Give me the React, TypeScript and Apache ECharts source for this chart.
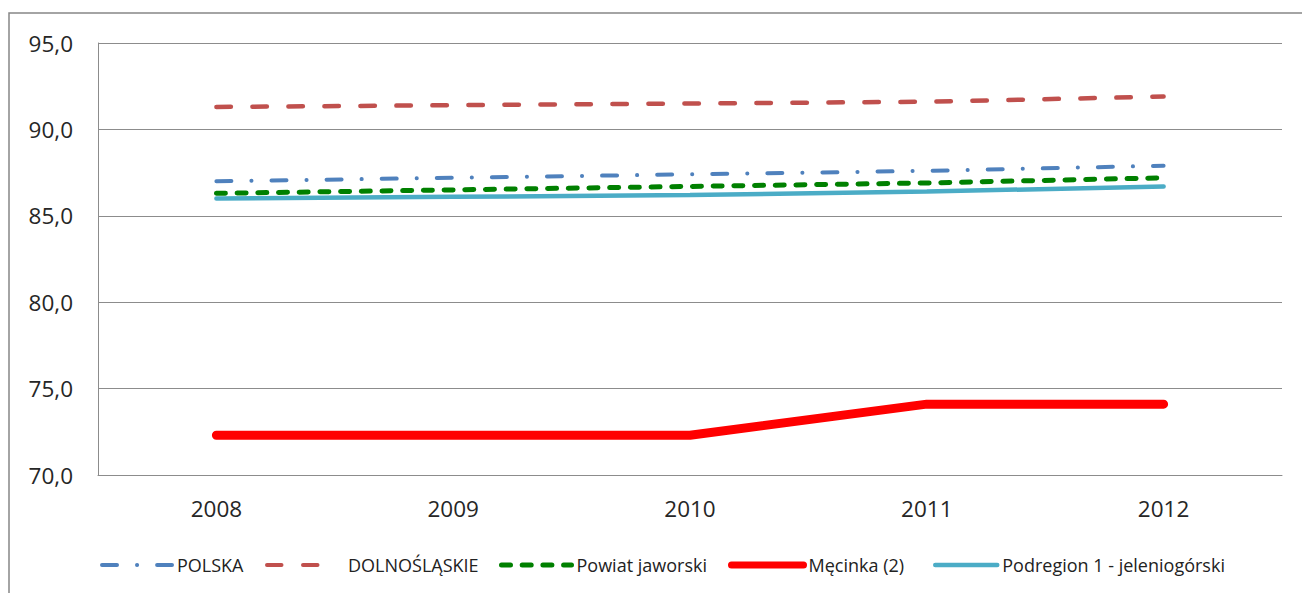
import React, { useEffect, useRef } from "react";
import * as echarts from "echarts";

const years = ["2008", "2009", "2010", "2011", "2012"];
const polska = [87.0, 87.2, 87.4, 87.6, 87.9];
const dolnoslaskie = [91.3, 91.4, 91.5, 91.6, 91.9];
const powiatJaworski = [86.3, 86.5, 86.7, 86.9, 87.2];
const mecinka = [72.3, 72.3, 72.3, 74.1, 74.1];
const podregion = [86.0, 86.1, 86.2, 86.4, 86.7];

const seriesNames = [
  "POLSKA",
  "DOLNOŚLĄSKIE",
  "Powiat jaworski",
  "Męcinka (2)",
  "Podregion 1 - jeleniogórski",
];

const FONT = "'Open Sans', 'Noto Sans', sans-serif";

export default function App() {
  const ref = useRef<HTMLDivElement>(null);

  useEffect(() => {
    if (!ref.current) return;
    const chart = echarts.init(ref.current, null, { renderer: "svg" });

    const legendLefts = [95, 260, 494, 723, 928];
    const legendWidths = [70, 58, 70, 72, 62];
    const legendLineWidths = [4, 4, 5, 7, 4.5];
    const legends = seriesNames.map((n, i) => ({
      data: [n],
      left: legendLefts[i],
      top: 551,
      padding: 5,
      itemWidth: legendWidths[i],
      itemHeight: 14,
      selectedMode: false,
      itemStyle: { opacity: 0 },
      lineStyle: { width: legendLineWidths[i], cap: "round" },
      textStyle: {
        fontFamily: FONT,
        fontSize: 18,
        color: "#222",
        padding: i === 1 ? [0, 0, 0, 18] : [0, 0, 0, 0],
      },
    }));

    chart.setOption({
      animation: false,
      backgroundColor: "#fff",
      graphic: [
        {
          type: "rect",
          shape: { x: 9, y: 13, width: 1310, height: 600 },
          style: { fill: "none", stroke: "#868686", lineWidth: 1.5 },
          silent: true,
        },
      ],
      legend: legends,
      grid: { left: 98, right: 20, top: 43, bottom: 118 },
      xAxis: {
        type: "category",
        data: years,
        boundaryGap: true,
        axisLine: { show: true, lineStyle: { color: "#8c8c8c", width: 1 } },
        axisTick: { show: false },
        axisLabel: {
          fontFamily: FONT,
          fontSize: 22.5,
          color: "#262626",
          margin: 22,
        },
      },
      yAxis: {
        type: "value",
        min: 70,
        max: 95,
        interval: 5,
        axisLine: { show: true, lineStyle: { color: "#8c8c8c", width: 1 } },
        axisTick: { show: false },
        splitLine: { show: true, lineStyle: { color: "#8c8c8c", width: 1 } },
        axisLabel: {
          fontFamily: FONT,
          fontSize: 22.5,
          color: "#262626",
          margin: 25,
          formatter: (v: number) => v.toFixed(1).replace(".", ","),
        },
      },
      series: [
        {
          name: seriesNames[0],
          type: "line",
          data: polska,
          symbol: "none",
          lineStyle: { color: "#4F81BD", width: 4, type: [15, 20, 0.1, 20], cap: "round" },
          itemStyle: { color: "#4F81BD" },
        },
        {
          name: seriesNames[1],
          type: "line",
          data: dolnoslaskie,
          symbol: "none",
          lineStyle: { color: "#C0504D", width: 4.5, type: [14.5, 21.5], cap: "round" },
          itemStyle: { color: "#C0504D" },
        },
        {
          name: seriesNames[2],
          type: "line",
          data: powiatJaworski,
          symbol: "none",
          lineStyle: { color: "#008000", width: 5, type: [9, 11.7], cap: "round" },
          itemStyle: { color: "#008000" },
        },
        {
          name: seriesNames[3],
          type: "line",
          data: mecinka,
          symbol: "none",
          lineStyle: { color: "#FF0000", width: 9, cap: "round", join: "round" },
          itemStyle: { color: "#FF0000" },
        },
        {
          name: seriesNames[4],
          type: "line",
          data: podregion,
          symbol: "none",
          lineStyle: { color: "#4BACC6", width: 4.5, cap: "round" },
          itemStyle: { color: "#4BACC6" },
        },
      ],
    });

    return () => chart.dispose();
  }, []);

  return (
    <div
      ref={ref}
      style={{ position: "fixed", left: 0, top: 0, width: 1302, height: 593 }}
    />
  );
}
